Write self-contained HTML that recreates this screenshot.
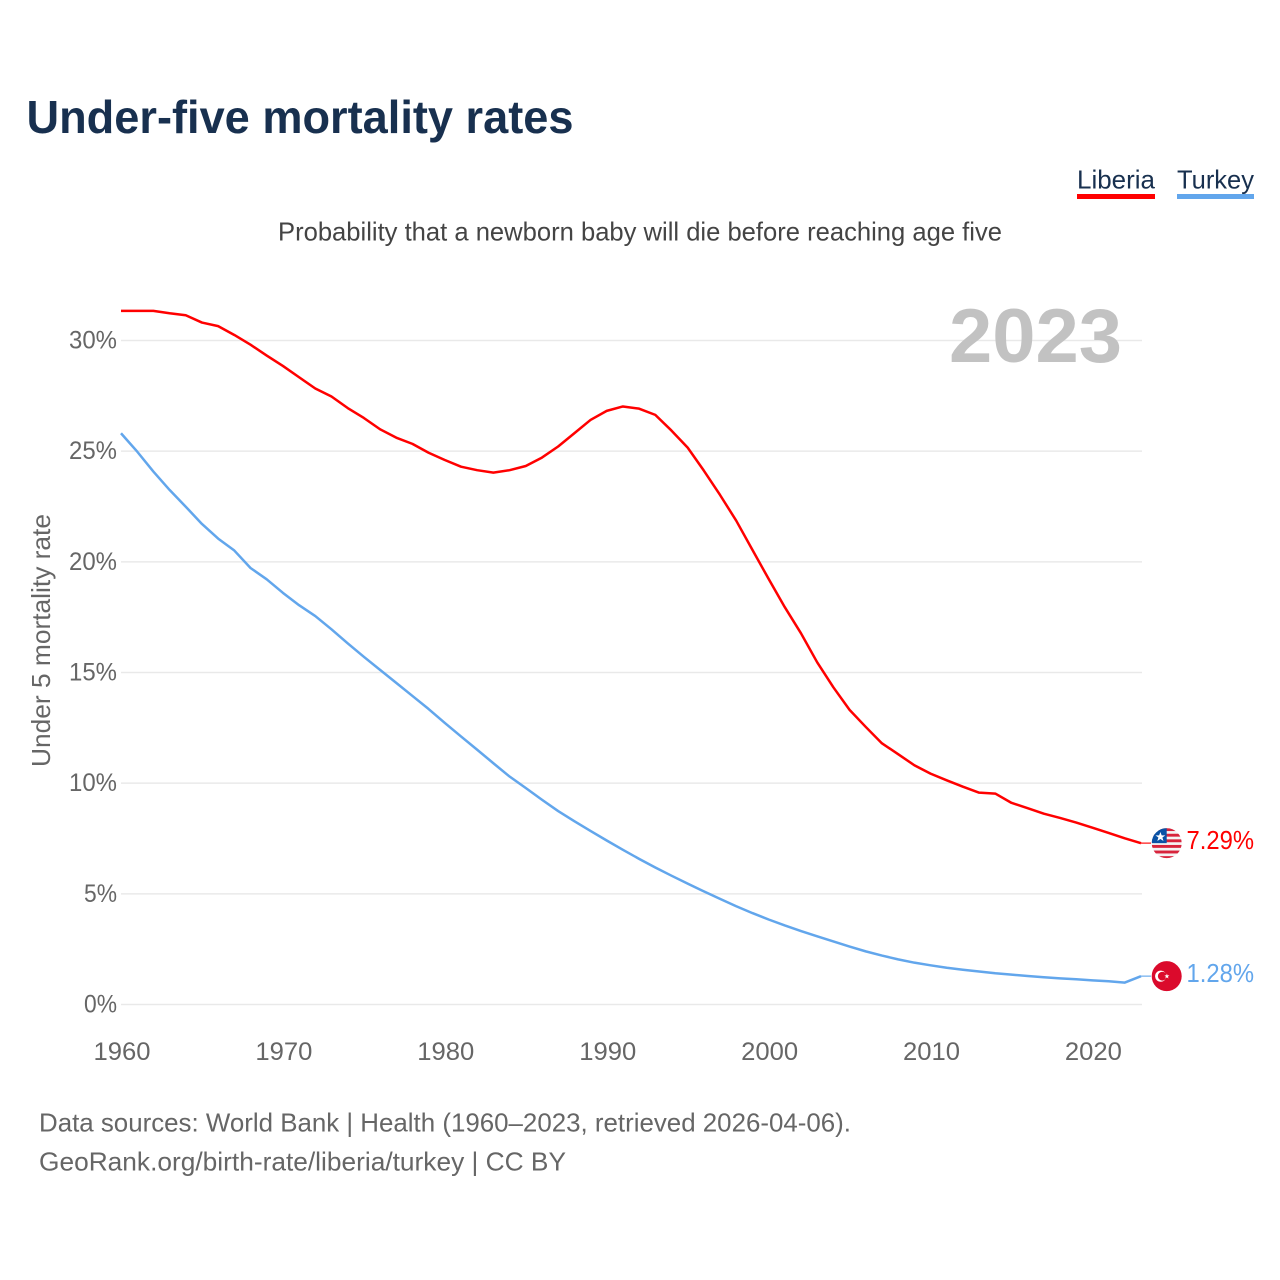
<!DOCTYPE html>
<html lang="en">
<head>
<meta charset="utf-8">
<title>Under-five mortality rates</title>
<style>
html,body{margin:0;padding:0;background:#fff;}
svg{display:block;}
text{font-family:"Liberation Sans",sans-serif;}
</style>
</head>
<body>
<svg id="chart" xmlns="http://www.w3.org/2000/svg" width="1280" height="1280" viewBox="0 0 1280 1280">
  <defs>
    <clipPath id="flag-clip-lr"><circle cx="0" cy="0" r="15"/></clipPath>
  </defs>
  <rect x="0" y="0" width="1280" height="1280" fill="#fff"/>
  <text x="26.5" y="133" font-size="46" font-weight="700" fill="#18304f" textLength="547" lengthAdjust="spacingAndGlyphs">Under-five mortality rates</text>
  <g>
    <g>
      <text x="1077" y="188.5" font-size="26" fill="#18304f" textLength="78" lengthAdjust="spacingAndGlyphs">Liberia</text>
      <rect x="1077" y="194" width="78" height="5" fill="#ff0000"/>
    </g>
    <g>
      <text x="1177" y="188.5" font-size="26" fill="#18304f" textLength="77" lengthAdjust="spacingAndGlyphs">Turkey</text>
      <rect x="1177" y="194" width="77" height="5" fill="#62a6ec"/>
    </g>
  </g>
  <text x="278" y="240.5" font-size="26" fill="#444" textLength="724" lengthAdjust="spacingAndGlyphs">Probability that a newborn baby will die before reaching age five</text>
  <g id="grid"></g>
  <text x="949" y="362" font-size="76" font-weight="700" fill="#c2c2c2" textLength="173" lengthAdjust="spacingAndGlyphs">2023</text>
  <g id="y-ticks"></g>
  <g id="x-ticks"></g>
  <text transform="translate(50,767) rotate(-90)" x="0" y="0" font-size="26" fill="#666" textLength="253" lengthAdjust="spacingAndGlyphs">Under 5 mortality rate</text>
  <g id="series"></g>
  <g id="flag-liberia">
    <g clip-path="url(#flag-clip-lr)">
      <rect x="-15" y="-15" width="30" height="30" fill="#f4f4f4"/>
      <g id="liberia-stripes"></g>
      <rect x="-15" y="-15" width="15" height="15" fill="#0a52a5"/>
      <polygon points="-6.3,-11.2 -5,-7.8 -1.4,-7.8 -4.3,-5.6 -3.2,-2.1 -6.3,-4.2 -9.4,-2.1 -8.3,-5.6 -11.2,-7.8 -7.6,-7.8" fill="#fff"/>
    </g>
  </g>
  <g id="flag-turkey">
    <circle cx="0" cy="0" r="15" fill="#db0a2c"/>
    <circle cx="-6" cy="0" r="5.6" fill="#fff"/>
    <circle cx="-4.4" cy="0" r="4.4" fill="#db0a2c"/>
    <polygon points="0.2,-2.6 0.8,-0.8 2.7,-0.8 1.2,0.4 1.8,2.3 0.2,1.2 -1.4,2.3 -0.8,0.4 -2.3,-0.8 -0.4,-0.8" fill="#fff"/>
  </g>
  <g id="end-labels"></g>
  <text x="39" y="1131.5" font-size="26" fill="#666" textLength="812" lengthAdjust="spacingAndGlyphs">Data sources: World Bank | Health (1960–2023, retrieved 2026-04-06).</text>
  <text x="39" y="1170.5" font-size="26" fill="#666" textLength="527" lengthAdjust="spacingAndGlyphs">GeoRank.org/birth-rate/liberia/turkey | CC BY</text>
</svg>
<script>
const years = [1960,1961,1962,1963,1964,1965,1966,1967,1968,1969,1970,1971,1972,1973,1974,1975,1976,1977,1978,1979,1980,1981,1982,1983,1984,1985,1986,1987,1988,1989,1990,1991,1992,1993,1994,1995,1996,1997,1998,1999,2000,2001,2002,2003,2004,2005,2006,2007,2008,2009,2010,2011,2012,2013,2014,2015,2016,2017,2018,2019,2020,2021,2022,2023];
const liberiaValues = [31.34,31.34,31.34,31.23,31.14,30.81,30.65,30.25,29.81,29.32,28.85,28.34,27.83,27.47,26.95,26.50,25.99,25.61,25.33,24.93,24.60,24.30,24.14,24.03,24.14,24.33,24.71,25.21,25.81,26.41,26.82,27.02,26.92,26.64,25.93,25.16,24.12,23.02,21.86,20.54,19.23,17.95,16.77,15.46,14.33,13.31,12.54,11.80,11.31,10.81,10.43,10.13,9.84,9.57,9.53,9.11,8.87,8.62,8.43,8.22,7.99,7.75,7.51,7.29];
const turkeyValues = [25.81,24.98,24.08,23.25,22.49,21.71,21.05,20.51,19.72,19.21,18.60,18.04,17.55,16.95,16.32,15.71,15.12,14.53,13.94,13.35,12.72,12.11,11.51,10.90,10.30,9.78,9.25,8.74,8.28,7.84,7.41,6.99,6.58,6.19,5.82,5.46,5.11,4.77,4.44,4.13,3.84,3.57,3.32,3.08,2.85,2.62,2.40,2.21,2.04,1.89,1.77,1.66,1.57,1.49,1.41,1.35,1.29,1.23,1.18,1.14,1.09,1.05,0.99,1.28];
const yTickValues = [0,5,10,15,20,25,30];
const xTickValues = [1960,1970,1980,1990,2000,2010,2020];

const NS = 'http://www.w3.org/2000/svg';
const PLOT_LEFT = 121, PLOT_RIGHT = 1141, Y_ZERO = 1004.5, Y_THIRTY = 340.5;
function xScale(year){ return PLOT_LEFT + (year - 1960) * (PLOT_RIGHT - PLOT_LEFT) / (2023 - 1960); }
function yScale(value){ return Y_ZERO + value * (Y_THIRTY - Y_ZERO) / 30; }
function make(tag, attrs, parent, text){
  const el = document.createElementNS(NS, tag);
  for (const k in attrs) el.setAttribute(k, attrs[k]);
  if (text !== undefined) el.textContent = text;
  parent.appendChild(el);
  return el;
}
const gridG = document.getElementById('grid');
const yTickG = document.getElementById('y-ticks');
const xTickG = document.getElementById('x-ticks');
const seriesG = document.getElementById('series');
const labelG = document.getElementById('end-labels');

yTickValues.forEach(function(v){
  const line = make('line', {x1:PLOT_LEFT, x2:PLOT_RIGHT + 1, y1:yScale(v), y2:yScale(v), stroke:'#e9e9e9', 'stroke-width':1.5}, gridG);
  
  
  const label = v + '%';
  const t = make('text', {x:117 - (label.length === 3 ? 48 : 33), y:yScale(v) + 8, 'font-size':25, fill:'#666', textLength:label.length === 3 ? 48 : 33, lengthAdjust:'spacingAndGlyphs'}, yTickG, label);
  
  
});

xTickValues.forEach(function(y){
  const t = make('text', {x:xScale(y) - 27.5, y:1060, 'font-size':25, fill:'#666', textLength:57, lengthAdjust:'spacingAndGlyphs'}, xTickG, String(y));
  
  
});

function drawSeries(name, values, color){
  const d = values.map(function(v, i){ return (i ? 'L' : 'M') + xScale(years[i]).toFixed(2) + ' ' + yScale(v).toFixed(2); }).join(' ');
  const path = make('path', {d:d, fill:'none', stroke:color, 'stroke-width':2.5, 'stroke-linejoin':'round'}, seriesG);
  
  
  const last = values[values.length - 1];
  const yEnd = yScale(last);
  const lead = make('line', {x1:PLOT_RIGHT, x2:1151, y1:yEnd, y2:yEnd, stroke:color, 'stroke-width':1.5, opacity:0.75}, seriesG);
  
  
  document.getElementById('flag-' + name).setAttribute('transform', 'translate(1166.7,' + yEnd.toFixed(2) + ')');
  const label = make('text', {x:1186.5, y:yEnd + 6, 'font-size':26, fill:color, textLength:67.5, lengthAdjust:'spacingAndGlyphs'}, labelG, last.toFixed(2) + '%');
  
  
}
drawSeries('liberia', liberiaValues, '#ff0000');
drawSeries('turkey', turkeyValues, '#62a6ec');

const stripesG = document.getElementById('liberia-stripes');
for (let i = 0; i < 6; i++) {
  const s = make('rect', {x:-15, y:-15 + i * 5.6, width:30, height:2.9, fill:'#d8243c'}, stripesG);
  
  
}
</script>
</body>
</html>
